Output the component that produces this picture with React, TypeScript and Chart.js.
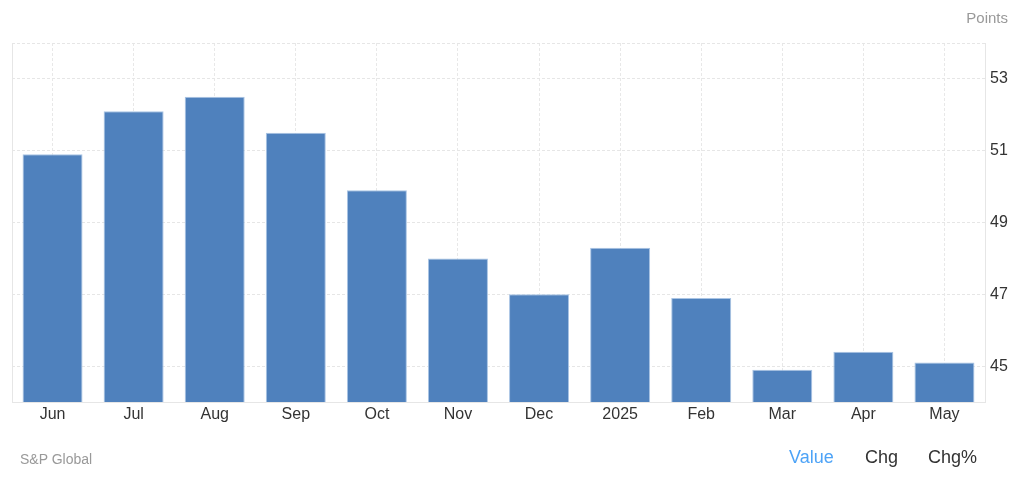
import React, { useEffect, useRef } from "react";
import { Chart, registerables } from "chart.js";

Chart.register(...registerables);

const categories = ["Jun", "Jul", "Aug", "Sep", "Oct", "Nov", "Dec", "2025", "Feb", "Mar", "Apr", "May"];
const values = [50.9, 52.1, 52.5, 51.5, 49.9, 48.0, 47.0, 48.3, 46.9, 44.9, 45.4, 45.1];
const yTicks = [45, 47, 49, 51, 53];
const yMin = 44;
const yMax = 54;

const FONT = "'Liberation Sans', Arial, sans-serif";

const frame = {
  id: "frame",
  afterDraw(chart: any) {
    const { ctx, chartArea } = chart;
    ctx.save();
    ctx.strokeStyle = "#e6e6e6";
    ctx.lineWidth = 1;
    ctx.beginPath();
    ctx.moveTo(chartArea.left + 0.5, chartArea.top);
    ctx.lineTo(chartArea.left + 0.5, chartArea.bottom);
    ctx.stroke();
    ctx.restore();
  },
};

export default function App() {
  const ref = useRef<HTMLCanvasElement | null>(null);
  useEffect(() => {
    if (!ref.current) return;
    const chart = new Chart(ref.current, {
      type: "bar",
      data: {
        labels: categories,
        datasets: [
          {
            data: values,
            backgroundColor: "#4f81bd",
            borderColor: "#a9c4e4",
            borderWidth: 1,
            barPercentage: 0.74,
            categoryPercentage: 1,
          },
        ],
      },
      options: {
        responsive: false,
        animation: false,
        layout: { padding: { left: 12, top: 43, right: 0, bottom: 0 } },
        plugins: { legend: { display: false }, tooltip: { enabled: false } },
        scales: {
          x: {
            offset: true,
            grid: {
              offset: false,
              color: "#e8e8e8",
              drawTicks: false,
            },
            border: { display: true, color: "#e6e6e6", dash: [3, 2] },
            ticks: {
              color: "#333333",
              font: { family: FONT, size: 16 },
              padding: 3,
              maxRotation: 0,
              autoSkip: false,
            },
            afterFit(scale: any) {
              scale.height = 80;
            },
          },
          y: {
            position: "right",
            min: yMin,
            max: yMax,
            afterBuildTicks(scale: any) {
              scale.ticks = [yMin, ...yTicks, yMax].map((v) => ({ value: v }));
            },
            grid: {
              color: "#e6e6e6",
              drawTicks: false,
            },
            border: { display: true, color: "#e6e6e6", dash: [3, 2] },
            ticks: {
              color: "#333333",
              font: { family: FONT, size: 16 },
              padding: 5,
              callback: (v: any) => (yTicks.includes(Number(v)) ? String(v) : ""),
            },
            afterFit(scale: any) {
              scale.width = 39;
            },
          },
        },
      } as any,
      plugins: [frame],
    });
    return () => chart.destroy();
  }, []);

  const txt = (style: React.CSSProperties): React.CSSProperties => ({
    position: "absolute",
    fontFamily: FONT,
    whiteSpace: "nowrap",
    ...style,
  });

  return (
    <div style={{ position: "fixed", left: 0, top: 0, width: 1024, height: 482, background: "#fff" }}>
      <canvas ref={ref} width={1024} height={482} style={{ position: "absolute", left: 0, top: 0 }} />
      <div style={txt({ right: 16, top: 9, fontSize: 15, color: "#999999" })}>Points</div>
      <div style={txt({ left: 20, top: 451, fontSize: 14, color: "#999999" })}>S&amp;P Global</div>
      <div style={txt({ left: 789, top: 447, fontSize: 18, color: "#4da3f7" })}>Value</div>
      <div style={txt({ left: 865, top: 447, fontSize: 18, color: "#333333" })}>Chg</div>
      <div style={txt({ left: 928, top: 447, fontSize: 18, color: "#333333" })}>Chg%</div>
    </div>
  );
}
